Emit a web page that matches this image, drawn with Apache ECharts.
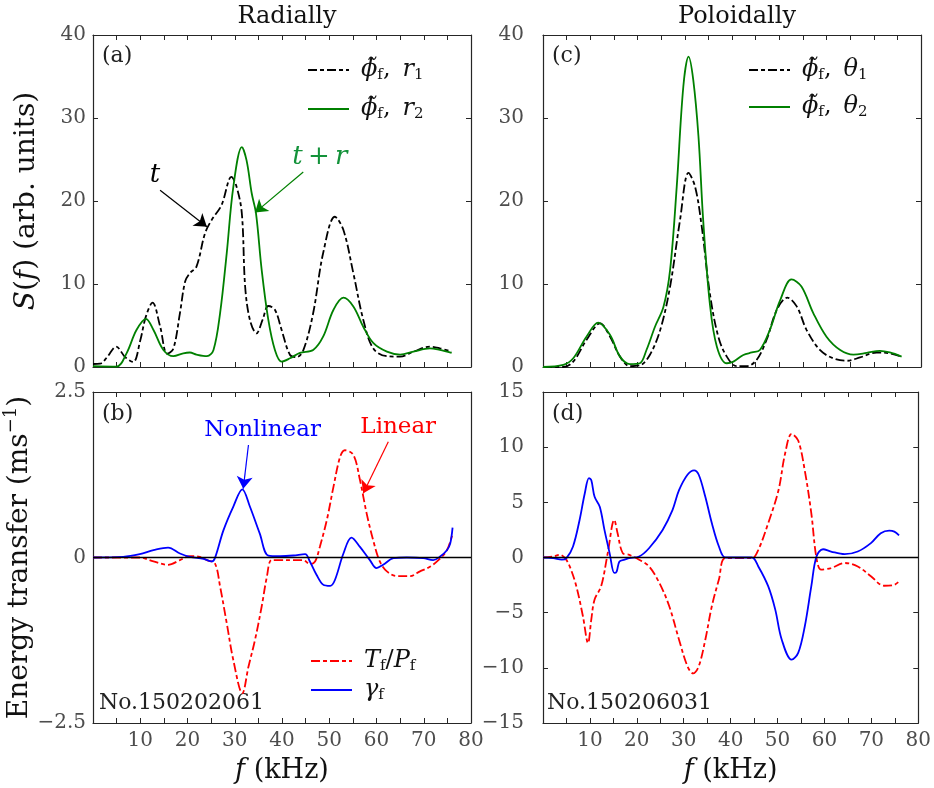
<!DOCTYPE html>
<html><head><meta charset="utf-8">
<script src="https://cdn.jsdelivr.net/npm/echarts@6/dist/echarts.min.js"></script>
<style>html,body{margin:0;padding:0;background:#fff}#c{width:934px;height:788px}</style>
</head><body><div id="c"></div>
<script>
// ---- data (frequency in kHz, value) ----
const xTickValues = [10, 20, 30, 40, 50, 60, 70, 80];
const spectrumTicks = [0, 10, 20, 30, 40];
const transferTicksB = [-2.5, 0, 2.5];
const transferTicksD = [-15, -10, -5, 0, 5, 10, 15];
const panelTitles = ['Radially', 'Poloidally'];
const shotLabels = ['No.150202061', 'No.150206031'];

// (a) radial spectra
const radialR1 = [[0,0.36],[1.5,0.4],[3,1.2],[4.9,2.45],[6.8,1.2],[8.5,0.6],[10,3.2],[11.2,6.1],[12.6,7.75],[14.2,4.9],[15.7,1.6],[17,2.2],[18.4,6.5],[19.5,10.3],[20.5,11.3],[21.9,12.1],[23.7,16.1],[25.1,17.7],[27.2,19.5],[29.3,22.9],[30.4,21.7],[31.5,18.5],[32.2,9.7],[33.2,5.7],[34.6,4.05],[35.9,5.7],[37.1,7.35],[38.5,6.9],[39.9,4.5],[41.7,1.45],[43.1,1.2],[44.5,2.0],[46.6,6.5],[48.7,13.7],[51.2,18.1],[53,16.5],[55.1,11.3],[57.2,5.7],[59.3,2.25],[62.2,1.3],[65,1.25],[67.8,1.85],[71.3,2.45],[73.4,2.25],[75.9,1.85]];
const radialR2 = [[0,0.1],[5,0.05],[7.1,1.65],[9.2,4.45],[11.2,5.8],[12.8,4.45],[14.9,2.05],[17,1.3],[19.1,1.65],[20.5,1.75],[21.9,1.5],[24.1,1.3],[25.5,2.05],[26.9,6.5],[28.3,13.7],[29.7,21.7],[31.5,26.5],[32.5,24.9],[33.6,20.9],[34.5,18.5],[35.7,11.7],[37.1,5.7],[38.5,2.05],[39.9,0.65],[41.7,1.05],[43.8,1.7],[46.6,2.05],[48.7,3.65],[50.9,6.9],[53,8.35],[55.1,7.3],[57.2,4.85],[59.3,2.9],[62.2,1.85],[65,1.5],[67.8,1.85],[71.3,2.25],[73.4,2.05],[75.9,1.7]];

// (c) poloidal spectra
const poloidalT1 = [[0,0],[4.3,0],[6.4,0.65],[9.2,3.25],[12.1,5.25],[14.2,3.65],[16.3,1.25],[18.4,0.1],[20.5,0.2],[22.6,1.45],[24.8,4.45],[26.9,9.7],[29,17.7],[30.8,23.4],[32.2,21.7],[33.6,16.9],[35.3,8.9],[37.1,3.65],[38.9,1.25],[41,0.1],[43.1,0.1],[45.2,0.85],[47.3,3.25],[49.5,6.9],[51.7,8.35],[53.7,7.3],[55.8,4.45],[58.6,2.05],[61.4,1.05],[64.3,0.75],[67.1,1.15],[70.6,1.75],[73.4,1.65],[75.9,1.25]];
const poloidalT2 = [[0,0],[4.3,0.25],[6.4,1.05],[9.2,3.65],[11.7,5.35],[14.2,3.85],[16.3,1.25],[18.4,0.35],[20.5,0.45],[21.9,2.05],[23.7,4.85],[25.5,7.25],[26.9,11.7],[28.3,21.7],[29.7,33.8],[30.8,37.4],[31.8,34.6],[32.9,27.8],[33.9,17.7],[35.3,7.7],[36.8,2.45],[38.9,0.45],[40.3,0.65],[42.4,1.45],[44.2,1.75],[45.9,2.05],[48,4.45],[50.2,8.05],[52.6,10.55],[54.7,9.7],[57.2,6.5],[60,3.65],[62.9,2.05],[65.7,1.5],[68.5,1.7],[71.3,1.95],[73.4,1.75],[75.9,1.25]];

// (b) radial energy transfer
const radialGamma = [[0,0],[6.4,0.01],[9.9,0.05],[12.8,0.11],[15.9,0.15],[18.4,0.06],[20.5,0.01],[23.4,-0.02],[25.1,-0.06],[25.8,-0.01],[27.6,0.41],[29.7,0.77],[31.6,1.03],[33.2,0.77],[35.3,0.36],[37.1,0.03],[39.6,0.02],[42.4,0.03],[44.9,0.05],[45.9,-0.06],[47.3,-0.26],[48.7,-0.41],[50.2,-0.43],[51.2,-0.34],[53,0.06],[54.7,0.3],[56.5,0.16],[58.6,-0.04],[60,-0.16],[61.4,-0.11],[63.6,-0.01],[66.4,0],[69.9,-0.01],[72,-0.04],[73.4,0.01],[74.9,0.11],[75.6,0.21],[76.1,0.45]];
const radialTP = [[0,0],[9.9,0],[12.8,-0.06],[15.9,-0.11],[18.4,-0.04],[20.5,0.02],[22.6,0.01],[24.1,-0.04],[25.8,-0.09],[26.9,-0.44],[28.3,-0.99],[29.7,-1.55],[31.6,-2.05],[32.9,-1.65],[34.3,-1.24],[35.7,-0.74],[36.8,-0.29],[37.8,-0.04],[39.6,-0.04],[42.4,-0.04],[44.5,-0.04],[45.9,-0.1],[47,-0.06],[48,0.16],[49.5,0.57],[50.9,1.07],[52.3,1.52],[53.3,1.62],[55.1,1.55],[56.5,1.17],[57.9,0.67],[59.3,0.26],[60.7,-0.06],[62.2,-0.21],[64.3,-0.28],[67.1,-0.28],[69.2,-0.21],[71.3,-0.14],[73.1,-0.04],[74.9,0.11],[76.1,0.36]];

// (d) poloidal energy transfer
const poloidalGamma = [[0,0],[2.2,-0.06],[4,-0.2],[5,-0.06],[6.4,1.0],[7.8,3.4],[8.9,5.8],[9.8,7.2],[10.3,7.0],[11,5.5],[12.1,4.6],[13.1,2.5],[14.2,0.4],[15.2,-1.4],[15.7,-1.27],[16.3,-0.36],[17.4,-0.2],[18.4,-0.06],[20.5,0.09],[22.6,0.84],[25.5,2.5],[27.6,4.3],[29,6.1],[30.8,7.5],[32.2,7.9],[33.2,7.5],[34.6,5.5],[36,3.1],[37.5,1.0],[38.9,0],[44.5,0],[45.9,-0.81],[48,-2.6],[49.5,-4.7],[50.9,-7.45],[53,-9.26],[54.4,-8.65],[55.8,-6.25],[57.2,-2.6],[58.3,0.09],[59.7,0.75],[61.4,0.54],[64.3,0.3],[67.1,0.54],[69.9,1.3],[72,2.2],[73.8,2.44],[74.9,2.35],[75.9,2.0]];
const poloidalTP = [[0,0],[2.2,0.09],[3.6,0.24],[4.7,-0.06],[5.7,-0.81],[7.1,-2.6],[8.5,-5.3],[9.6,-7.75],[10.3,-5.6],[11,-3.8],[12.4,-2.6],[13.8,0.4],[15.2,3.4],[15.9,2.2],[17,0.4],[18.4,0.24],[20.5,-0.2],[22.6,-0.81],[24.8,-2.3],[26.9,-4.4],[29,-7.45],[30.8,-9.86],[32,-10.5],[33.2,-9.86],[34.6,-7.45],[36,-4.4],[37.5,-2.0],[38.9,-0.06],[44.5,-0.06],[45.9,0.7],[48,3.1],[50.2,6.1],[51.6,9.4],[53,11.2],[54.4,10.6],[55.8,7.9],[57.2,4.0],[58.3,-0.06],[59.3,-1.1],[61.4,-0.96],[64.3,-0.5],[67.1,-0.81],[69.9,-1.7],[72.7,-2.56],[74.9,-2.47],[75.9,-2.17]];

// ---- styling ----
const FONT = "'DejaVu Serif', 'Liberation Serif', serif";
const AX = '#262626';
const TICKC = '#4d4d4d';
const GREEN = '#008000';
const DASHDOT = [9, 3, 4, 3];
const grids = [
  {left: 93, top: 35, width: 378, height: 332},
  {left: 93, top: 392, width: 378, height: 331},
  {left: 543, top: 35, width: 378, height: 332},
  {left: 543, top: 392, width: 378, height: 331}
];
const yRanges = [
  {min: 0, max: 40, interval: 10},
  {min: -2.5, max: 2.5, interval: 2.5},
  {min: 0, max: 40, interval: 10},
  {min: -15, max: 15, interval: 5}
];
const minusFmt = v => (v < 0 ? '\u2212' + Math.abs(v) : String(v));

const xAxes = [], yAxes = [];
grids.forEach((g, i) => {
  const bottomRow = (i === 1 || i === 3);
  const common = {
    type: 'value', gridIndex: i, min: 0, max: 80, interval: 5,
    splitLine: {show: false},
    axisLine: {show: true, onZero: false, lineStyle: {color: AX, width: 1.2}},
    axisTick: {show: true, inside: true, length: 5, lineStyle: {color: AX, width: 1}}
  };
  xAxes.push(Object.assign({}, common, {
    position: 'bottom',
    axisLabel: {show: bottomRow, margin: 8, color: TICKC, fontFamily: FONT, fontSize: 20,
      formatter: v => (xTickValues.indexOf(v) >= 0 ? String(v) : '')},
    name: bottomRow ? '{i|f} (kHz)' : '',
    nameLocation: 'middle', nameGap: 34,
    nameTextStyle: {fontFamily: FONT, fontSize: 27, color: '#111',
      rich: {i: {fontFamily: FONT, fontStyle: 'italic', fontSize: 27, color: '#111'}}}
  }));
  xAxes.push(Object.assign({}, common, {position: 'top', axisLabel: {show: false}}));
  const r = yRanges[i];
  const ycommon = {
    type: 'value', gridIndex: i, min: r.min, max: r.max, interval: r.interval,
    splitLine: {show: false},
    axisLine: {show: true, onZero: false, lineStyle: {color: AX, width: 1.2}},
    axisTick: {show: true, inside: true, length: 5, lineStyle: {color: AX, width: 1}}
  };
  let yname = '';
  if (i === 0) yname = '{i|S}({i|f}) (arb. units)';
  if (i === 1) yname = 'Energy transfer (ms{sup|\u22121})';
  yAxes.push(Object.assign({}, ycommon, {
    position: 'left',
    axisLabel: {show: true, margin: (i < 2 ? 7 : 19), color: TICKC, fontFamily: FONT, fontSize: 20, formatter: minusFmt},
    name: yname, nameLocation: 'middle', nameGap: (i === 0 ? 52 : 50), nameRotate: 90,
    nameTextStyle: {fontFamily: FONT, fontSize: 28, color: '#111',
      rich: {
        i: {fontFamily: FONT, fontStyle: 'italic', fontSize: 28, color: '#111'},
        sup: {fontFamily: FONT, fontSize: 18, color: '#111', verticalAlign: 'top', lineHeight: 34}
      }}
  }));
  yAxes.push(Object.assign({}, ycommon, {position: 'right', axisLabel: {show: false}}));
});

const legendRich = {
  m: {fontFamily: FONT, fontSize: 24, color: '#111', lineHeight: 30, verticalAlign: 'middle'},
  i: {fontFamily: FONT, fontStyle: 'italic', fontSize: 24, color: '#111', lineHeight: 30, verticalAlign: 'middle'},
  s: {fontFamily: FONT, fontSize: 15, color: '#111', lineHeight: 30, verticalAlign: 'bottom', padding: [0, 0, 2, 0]},
  si: {fontFamily: FONT, fontStyle: 'italic', fontSize: 15, color: '#111', lineHeight: 30, verticalAlign: 'bottom', padding: [0, 0, 2, 0]}
};
const legendText = {
  radialR1: '{i|\u03d5\u0303}{s|f}{m|,\u2002}{i|r}{s|1}',
  radialR2: '{i|\u03d5\u0303}{s|f}{m|,\u2002}{i|r}{s|2}',
  poloidalT1: '{i|\u03d5\u0303}{s|f}{m|,\u2002}{i|\u03b8}{s|1}',
  poloidalT2: '{i|\u03d5\u0303}{s|f}{m|,\u2002}{i|\u03b8}{s|2}',
  radialTP: '{i|T}{s|f}{m|/}{i|P}{s|f}',
  radialGamma: '{i|\u03b3}{s|f}'
};
function mkLegend(names, left, top, gap) {
  return {
    data: names, left: left, top: top, orient: 'vertical',
    itemWidth: 41, itemHeight: 14, itemGap: gap, padding: 0,
    selectedMode: false,
    itemStyle: {opacity: 0},
    formatter: n => legendText[n],
    textStyle: {rich: legendRich, padding: [0, 0, 0, 7]}
  };
}

function line(name, data, gi, color, type, extra) {
  return Object.assign({
    name: name, type: 'line', xAxisIndex: gi * 2, yAxisIndex: gi * 2,
    data: data, showSymbol: false, symbol: 'none', smooth: 0.35,
    lineStyle: {color: color, width: 1.8, type: type}, itemStyle: {color: color},
    z: 3, animation: false
  }, extra || {});
}
function arrowLine(from, to, color) {
  return [{coord: from, symbol: 'none', lineStyle: {color: color, width: 1.2, type: 'solid'}},
          {coord: to, symbol: 'arrow'}];
}
function noteMark(coord, text, color, size) {
  return {
    symbol: 'circle', symbolSize: 1, itemStyle: {color: 'rgba(0,0,0,0)'}, silent: true, animation: false,
    label: {show: true, position: 'inside', formatter: text, color: color, fontFamily: FONT, fontSize: size,
      rich: {i: {fontFamily: FONT, fontStyle: 'italic', fontSize: size, color: color}}},
    data: [{coord: coord}]
  };
}
const zeroLine = {yAxis: 0, lineStyle: {color: '#000', width: 1.3, type: 'solid'}};
const markBase = {silent: true, animation: false, symbol: ['none', 'none'], symbolSize: 12, label: {show: false}};

const series = [
  line('radialR1', radialR1, 0, '#000', DASHDOT, {
    markLine: Object.assign({}, markBase, {data: [arrowLine([14.2, 21.3], [24.1, 16.9], '#000')]}),
    markPoint: noteMark([13.1, 23.1], '{i|t}', '#000', 26)
  }),
  line('radialR2', radialR2, 0, GREEN, 'solid', {
    markLine: Object.assign({}, markBase, {data: [arrowLine([44.5, 23.5], [34.3, 18.6], GREEN)]}),
    markPoint: noteMark([48, 25.3], '{i|t}\u2009+\u2009{i|r}', '#13923a', 26)
  }),
  line('radialTP', radialTP, 1, '#ff0000', DASHDOT, {
    markLine: Object.assign({}, markBase, {data: [zeroLine, arrowLine([62.5, 1.75], [57.2, 0.97], '#ff0000')]}),
    markPoint: noteMark([64.6, 1.97], 'Linear', '#ff0000', 23)
  }),
  line('radialGamma', radialGamma, 1, '#0000ff', 'solid', {
    markLine: Object.assign({}, markBase, {data: [arrowLine([32.9, 1.70], [31.8, 1.04], '#0000ff')]}),
    markPoint: noteMark([35.9, 1.92], 'Nonlinear', '#0000ff', 23)
  }),
  line('poloidalT1', poloidalT1, 2, '#000', DASHDOT),
  line('poloidalT2', poloidalT2, 2, GREEN, 'solid'),
  line('poloidalTP', poloidalTP, 3, '#ff0000', DASHDOT, {
    markLine: Object.assign({}, markBase, {data: [zeroLine]})
  }),
  line('poloidalGamma', poloidalGamma, 3, '#0000ff', 'solid')
];

const txt = (x, y, text, size, extra) => ({
  type: 'text', left: x, top: y, silent: true,
  style: Object.assign({text: text, fontFamily: FONT, fontSize: size, fill: '#222'}, extra || {})
});

const option = {
  backgroundColor: '#fff',
  animation: false,
  title: [
    {text: panelTitles[0], left: 282, top: 0, textAlign: 'center', textStyle: {fontFamily: FONT, fontSize: 24, fontWeight: 'normal', color: '#111'}},
    {text: panelTitles[1], left: 732, top: 0, textAlign: 'center', textStyle: {fontFamily: FONT, fontSize: 24, fontWeight: 'normal', color: '#111'}}
  ],
  grid: grids,
  xAxis: xAxes,
  yAxis: yAxes,
  legend: [
    mkLegend(['radialR1', 'radialR2'], 307, 58, 12),
    mkLegend(['radialTP', 'radialGamma'], 310, 649, 2),
    mkLegend(['poloidalT1', 'poloidalT2'], 748, 58, 10)
  ],
  graphic: [
    txt(102, 45, '(a)', 22),
    txt(102, 403, '(b)', 22),
    txt(552, 45, '(c)', 22),
    txt(552, 403, '(d)', 22),
    txt(99, 692, shotLabels[0], 22),
    txt(547, 692, shotLabels[1], 22)
  ],
  series: series
};
const chart = echarts.init(document.getElementById('c'), null, {renderer: 'canvas'});
chart.setOption(option);
</script>
</body></html>
